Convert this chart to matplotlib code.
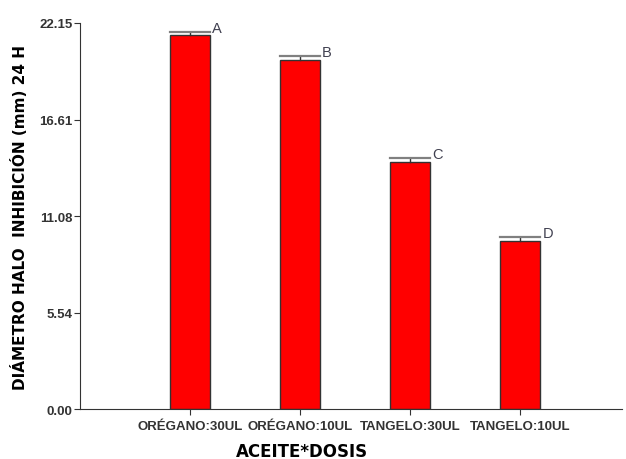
import matplotlib
matplotlib.use('Agg')
import matplotlib.pyplot as plt

plt.rcParams['font.family'] = ['Liberation Sans', 'DejaVu Sans']

# data
grupos = ['ORÉGANO:30UL', 'ORÉGANO:10UL', 'TANGELO:30UL', 'TANGELO:10UL']
medias = [21.43, 20.0, 14.2, 9.64]
errores = [0.2, 0.25, 0.22, 0.25]
letras = ['A', 'B', 'C', 'D']
yticks = [0.00, 5.54, 11.08, 16.61, 22.15]

fig = plt.figure(figsize=(6.26, 4.60), dpi=100)
ax = fig.add_axes([0.127, 0.108, 0.866, 0.840])

x = [1, 2, 3, 4]
ancho = 0.36
ax.bar(x, medias, width=ancho, color='#ff0000', edgecolor='#333333', linewidth=1.0, zorder=2)

# error bars: only upper part, cap as wide as the bar
for xi, m, e, l in zip(x, medias, errores, letras):
    ax.plot([xi, xi], [m, m + e], color='#333333', lw=1.0, zorder=3)
    ax.plot([xi - ancho / 2, xi + ancho / 2], [m + e, m + e], color='#808080', lw=1.6, zorder=3)
    ax.text(xi + ancho / 2 + 0.02, m + e, l, fontsize=10.5, color='#404050',
            ha='left', va='baseline')

ax.set_xlim(0, 4.92)
ax.set_ylim(0, 22.15)
ax.set_yticks(yticks)
ax.set_yticklabels(['%.2f' % v for v in yticks], fontsize=9.5, fontweight='bold', color='#333333')
ax.set_xticks(x)
ax.set_xticklabels(grupos, fontsize=9.5, fontweight='bold', color='#333333')
ax.tick_params(axis='both', direction='out', length=4, width=0.8, color='#333333')
ax.tick_params(axis='x', pad=4)
ax.tick_params(axis='y', pad=1)

ax.spines['top'].set_visible(False)
ax.spines['right'].set_visible(False)
ax.spines['left'].set_color('#333333')
ax.spines['bottom'].set_color('#333333')

ax.set_ylabel('DIÁMETRO HALO  INHIBICIÓN (mm) 24 H', fontsize=11, fontweight='bold',
              family='DejaVu Sans')
ax.yaxis.set_label_coords(-0.095, 0.5)
fig.text(302 / 626, 1 - 452 / 460, 'ACEITE*DOSIS', fontsize=12, fontweight='bold',
         family='DejaVu Sans', ha='center', va='center')

fig.savefig('out.png', dpi=100)
